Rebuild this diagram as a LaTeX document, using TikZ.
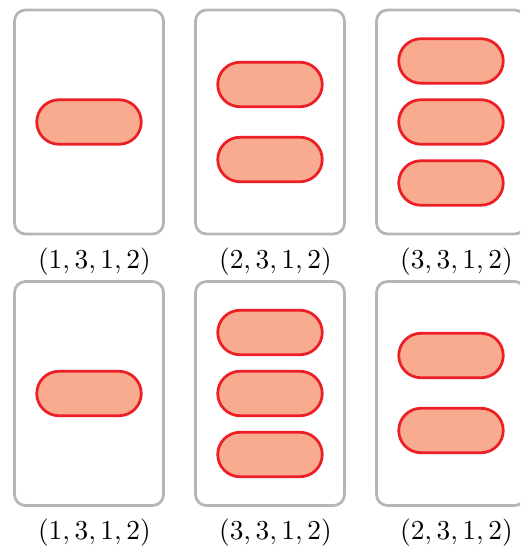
\documentclass[tikz,border=0pt]{standalone}
\usepackage{tikz}
\definecolor{cardgray}{RGB}{182,182,182}
\definecolor{pillfill}{RGB}{248,171,143}
\definecolor{pilledge}{RGB}{236,30,38}
\tikzset{
  card/.style={draw=cardgray, line width=1.1pt, rounded corners=4.4pt, fill=white,
    minimum width=59.6pt, minimum height=89.6pt, inner sep=0pt},
  pill/.style={draw=pilledge, fill=pillfill, line width=1.1pt, rounded corners=8.9pt,
    minimum width=41.8pt, minimum height=17.8pt, inner sep=0pt},
  lab/.style={inner sep=0pt, font=\fontsize{10.7}{12}\selectfont}
}
\begin{document}
\begin{tikzpicture}[x=0.4pt, y=-0.4pt]
\clip (0,0) rectangle (520,546);
% row 1
\node[card] (c1) at (89,122) {};
\node[pill] (c1p1) at (89,122) {};
\node[lab] (l1) at (94.4,261.5) {$(1,3,1,2)$};
\node[card] (c2) at (270,122) {};
\node[pill] (c2p1) at (270,84.5) {};
\node[pill] (c2p2) at (270,159.5) {};
\node[lab] (l2) at (275.4,261.5) {$(2,3,1,2)$};
\node[card] (c3) at (451,122) {};
\node[pill] (c3p1) at (451,61) {};
\node[pill] (c3p2) at (451,122) {};
\node[pill] (c3p3) at (451,183) {};
\node[lab] (l3) at (456.4,261.5) {$(3,3,1,2)$};
% row 2
\node[card] (c4) at (89,393.5) {};
\node[pill] (c4p1) at (89,393.5) {};
\node[lab] (l4) at (94.4,533) {$(1,3,1,2)$};
\node[card] (c5) at (270,393.5) {};
\node[pill] (c5p1) at (270,332.5) {};
\node[pill] (c5p2) at (270,393.5) {};
\node[pill] (c5p3) at (270,454.5) {};
\node[lab] (l5) at (275.4,533) {$(3,3,1,2)$};
\node[card] (c6) at (451,393.5) {};
\node[pill] (c6p1) at (451,355.5) {};
\node[pill] (c6p2) at (451,430.5) {};
\node[lab] (l6) at (456.4,533) {$(2,3,1,2)$};
\end{tikzpicture}
\end{document}
